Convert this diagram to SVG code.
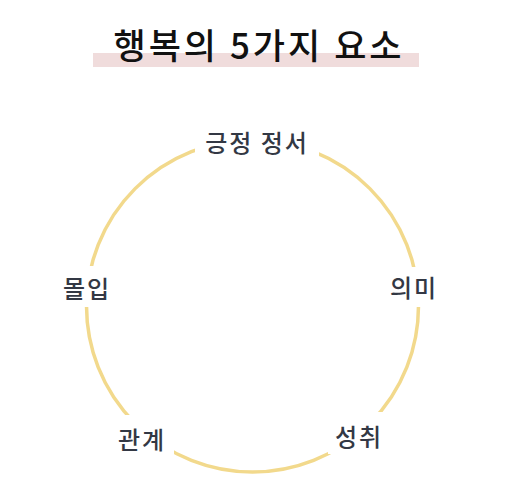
<svg xmlns="http://www.w3.org/2000/svg" width="506" height="502" viewBox="0 0 506 502">
<style>
.title{font-family:"Noto Sans CJK KR","Noto Sans",sans-serif;font-size:35px;font-weight:500;letter-spacing:3px;fill:#111;text-anchor:middle}
.lbl{font-family:"Noto Sans CJK KR","Noto Sans",sans-serif;font-size:24px;font-weight:500;letter-spacing:2px;fill:#333844;text-anchor:middle;dominant-baseline:central}
.bg{fill:#ffffff}
.ring{fill:none;stroke:#f2d98c;stroke-width:3.5}
</style>
<rect width="506" height="502" fill="#ffffff"/>
<g id="title">
<rect x="93" y="53" width="326" height="14" fill="#f0dcdc"/>
<text class="title" x="259" y="59">행복의 5가지 요소</text>
</g>
<g id="connectors">
<circle class="ring" cx="252.5" cy="306" r="166"/>
</g>
<g id="node-positive-emotion">
<rect class="bg" x="195" y="124" width="124" height="34"/>
<text class="lbl" x="257" y="141">긍정 정서</text>
</g>
<g id="node-engagement">
<rect class="bg" x="58" y="266" width="56" height="41"/>
<text class="lbl" x="87" y="287">몰입</text>
</g>
<g id="node-meaning">
<rect class="bg" x="386" y="267" width="56" height="40"/>
<text class="lbl" x="414" y="286">의미</text>
</g>
<g id="node-relationships">
<rect class="bg" x="110" y="415" width="64" height="42"/>
<text class="lbl" x="142" y="438">관계</text>
</g>
<g id="node-accomplishment">
<rect class="bg" x="328" y="412" width="62" height="42"/>
<text class="lbl" x="359" y="435">성취</text>
</g>
</svg>
